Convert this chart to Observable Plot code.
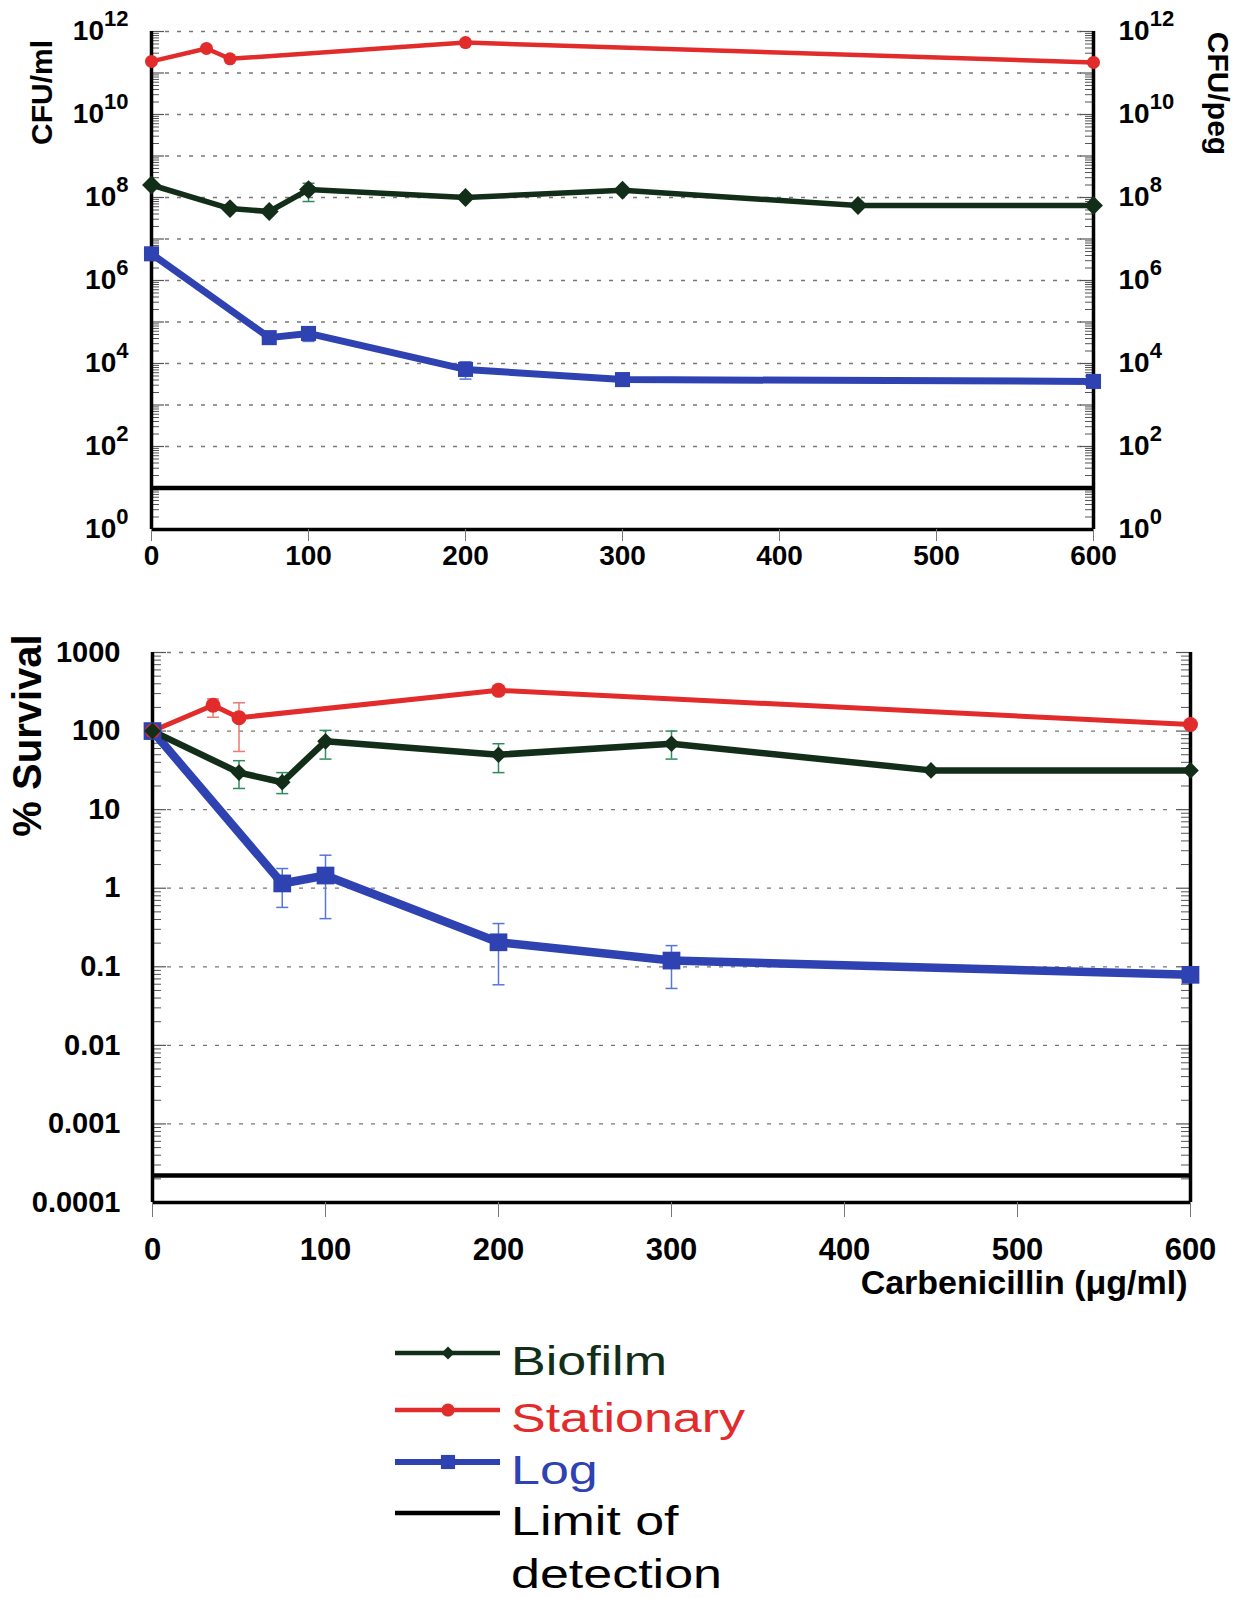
<!DOCTYPE html>
<html>
<head>
<meta charset="utf-8">
<script src="https://cdn.jsdelivr.net/npm/d3@7"></script>
<script src="https://cdn.jsdelivr.net/npm/@observablehq/plot@0.6"></script>
<style>
  body { margin: 0; background: #fff; }
  #wrap { width: 1247px; background: #fff; }
  #wrap svg { display: block; }
</style>
</head>
<body>
<div id="wrap"></div>
<script>
// ---------------- DATA ----------------
const concBiofilm    = [0, 50, 75, 100, 200, 300, 450, 600];
const concStationary = [0, 35, 50, 200, 600];
const concLog        = [0, 75, 100, 200, 300, 600];
const concTicks      = [0, 100, 200, 300, 400, 500, 600];

// Top panel: CFU/ml (planktonic) and CFU/peg (biofilm)
const cfuBiofilm    = [2.0e8, 5.4e7, 4.6e7, 1.55e8, 1.0e8, 1.5e8, 6.4e7, 6.4e7];
const cfuBiofilmLo  = [null, null, null, 8.0e7, null, null, null, null];
const cfuBiofilmHi  = [null, null, null, 2.2e8, null, null, null, null];
const cfuStationary = [1.9e11, 3.9e11, 2.2e11, 5.4e11, 1.8e11];
const cfuLog        = [4.4e6, 4.2e4, 5.3e4, 7.2e3, 4.1e3, 3.7e3];
const cfuLogLo      = [null, null, 3.4e4, 4.2e3, null, null];
const cfuLogHi      = [null, null, 7.0e4, 1.1e4, null, null];
const cfuLimit      = 10;
const cfuTickExps   = [0, 2, 4, 6, 8, 10, 12];

// Bottom panel: % survival
const survBiofilm     = [100, 29.6, 22.3, 74, 50, 69, 31.6, 31.6];
const survBiofilmLo   = [null, 18.6, 16, 44, 29.6, 44, null, null];
const survBiofilmHi   = [null, 42, 29.6, 102, 69, 100, null, null];
const survStationary  = [100, 213, 148, 330, 121];
const survStationaryLo= [null, 150, 55, 290, null];
const survStationaryHi= [null, 257, 229, 380, null];
const survLog         = [100, 1.15, 1.45, 0.205, 0.12, 0.079];
const survLogLo       = [null, 0.57, 0.41, 0.059, 0.053, null];
const survLogHi       = [null, 1.78, 2.63, 0.355, 0.186, null];
const survLimit       = 0.00022;
const survTicks       = [0.0001, 0.001, 0.01, 0.1, 1, 10, 100, 1000];
const survTickLabels  = ["0.0001", "0.001", "0.01", "0.1", "1", "10", "100", "1000"];

const seriesNames = ["Biofilm", "Stationary", "Log", "Limit of detection"];

// ---------------- STYLE ----------------
const FONT = "'Liberation Sans', Arial, Helvetica, sans-serif";
const C = { biofilm: "#132e18", stationary: "#e22b2b", log: "#2f42b2", limit: "#000" };
const CE = { biofilm: "#2f8a5c", stationary: "#ea7a72", log: "#5577dd" };
const W = 1247;

function rows(xs, ys, lo, hi) {
  return xs.map((x, i) => ({ x, y: ys[i], lo: lo ? lo[i] : null, hi: hi ? hi[i] : null }));
}
function errRows(t) { return t.filter(d => d.lo != null && d.hi != null); }

const capSymbol = { draw(ctx) { ctx.moveTo(-6, 0); ctx.lineTo(6, 0); } };

function decadeList(lo, hi) { const a = []; for (let k = lo; k <= hi; k++) a.push(Math.pow(10, k)); return a; }
function minorList(lo, hi) { const a = []; for (let k = lo; k < hi; k++) for (let m = 2; m <= 9; m++) a.push(m * Math.pow(10, k)); return a; }

function errorMarks(t, capColor) {
  const e = errRows(t);
  return [
    Plot.ruleX(e, { x: "x", y1: "lo", y2: "hi", stroke: capColor, strokeWidth: 1.5 }),
    Plot.dot(e, { x: "x", y: "lo", symbol: capSymbol, fill: "none", stroke: capColor, strokeWidth: 1.5 }),
    Plot.dot(e, { x: "x", y: "hi", symbol: capSymbol, fill: "none", stroke: capColor, strokeWidth: 1.5 })
  ];
}

function superscripts(svg) {
  d3.select(svg).selectAll("text").each(function () {
    const t = this.textContent;
    if (!t || t.indexOf("^") < 0) return;
    const [base, exp] = t.split("^");
    this.textContent = "";
    const s = d3.select(this);
    s.append("tspan").text(base);
    s.append("tspan").attr("font-size", 22).attr("dy", -14).text(exp);
  });
}

const wrap = document.getElementById("wrap");

// ---------------- TOP PANEL ----------------
{
  const m = { left: 151, right: 154, top: 31, bottom: 71 };
  const H = 600;
  const PW = W - m.left - m.right;
  const bio = rows(concBiofilm, cfuBiofilm, cfuBiofilmLo, cfuBiofilmHi);
  const sta = rows(concStationary, cfuStationary);
  const lg  = rows(concLog, cfuLog, cfuLogLo, cfuLogHi);
  const cfuTicks = cfuTickExps.map(e => Math.pow(10, e));
  const fmt = d => "10^" + Math.round(Math.log10(d));
  const grid = decadeList(1, 12).filter(v => v !== cfuLimit);
  const chart = Plot.plot({
    width: W, height: H,
    marginLeft: m.left, marginRight: m.right, marginTop: m.top, marginBottom: m.bottom,
    x: { domain: [0, 600], axis: null, label: null },
    y: { type: "log", domain: [1, 1e12], axis: null, label: null },
    style: { fontFamily: FONT, fontWeight: "bold", color: "#000", background: "#fff", overflow: "visible" },
    marks: [
      Plot.ruleY(grid, { stroke: "#777", strokeWidth: 1.3, strokeDasharray: "4,8", insetLeft: 14, insetRight: 12 }),
      Plot.ruleY(minorList(0, 12), { stroke: "#555", strokeWidth: 1, insetRight: PW - 8 }),
      Plot.ruleY(minorList(0, 12), { stroke: "#555", strokeWidth: 1, insetLeft: PW - 8 }),
      Plot.ruleY(decadeList(0, 12), { stroke: "#555", strokeWidth: 1.2, insetRight: PW - 13 }),
      Plot.ruleY(decadeList(0, 12), { stroke: "#555", strokeWidth: 1.2, insetLeft: PW - 13 }),
      Plot.ruleY([cfuLimit], { stroke: C.limit, strokeWidth: 4.5 }),
      Plot.ruleX([0, 600], { stroke: "#000", strokeWidth: 3.5 }),
      Plot.ruleY([1], { stroke: "#000", strokeWidth: 3.5 }),
      Plot.axisX({ ticks: concTicks, tickSize: 12, tickPadding: 4, stroke: "#777", fontSize: 28, fontWeight: "bold", label: null }),
      Plot.axisY({ anchor: "left", ticks: cfuTicks, tickFormat: fmt, tickSize: 0, tickPadding: 23, fontSize: 28, fontWeight: "bold", label: null }),
      Plot.axisY({ anchor: "right", ticks: cfuTicks, tickFormat: fmt, tickSize: 0, tickPadding: 25, fontSize: 28, fontWeight: "bold", label: null }),
      Plot.text(["CFU/ml"], { text: d => d, frameAnchor: "top-left", textAnchor: "middle", lineAnchor: "middle", rotate: -90, dx: -109, dy: 61, fontSize: 30, fontWeight: "bold" }),
      Plot.text(["CFU/peg"], { text: d => d, frameAnchor: "top-right", textAnchor: "middle", lineAnchor: "middle", rotate: 90, dx: 124, dy: 62, fontSize: 30, fontWeight: "bold" }),
      Plot.line(lg,  { x: "x", y: "y", stroke: C.log, strokeWidth: 7 }),
      Plot.line(bio, { x: "x", y: "y", stroke: C.biofilm, strokeWidth: 5.5 }),
      Plot.line(sta, { x: "x", y: "y", stroke: C.stationary, strokeWidth: 4.5 }),
      ...errorMarks(lg, CE.log),
      ...errorMarks(bio, CE.biofilm),
      Plot.dot(lg,  { x: "x", y: "y", symbol: "square", r: 8.5, fill: C.log }),
      Plot.dot(sta, { x: "x", y: "y", symbol: "circle", r: 6.5, fill: C.stationary }),
      Plot.dot(bio, { x: "x", y: "y", symbol: "diamond2", r: 8.5, fill: C.biofilm })
    ]
  });
  superscripts(chart);
  wrap.appendChild(chart);
}

// ---------------- BOTTOM PANEL ----------------
{
  const m = { left: 152, right: 57, top: 52, bottom: 118 };
  const H = 720;
  const PW = W - m.left - m.right;
  const bio = rows(concBiofilm, survBiofilm, survBiofilmLo, survBiofilmHi);
  const sta = rows(concStationary, survStationary, survStationaryLo, survStationaryHi);
  const lg  = rows(concLog, survLog, survLogLo, survLogHi);
  const fmt = d => survTickLabels[survTicks.indexOf(d)];
  const chart = Plot.plot({
    width: W, height: H,
    marginLeft: m.left, marginRight: m.right, marginTop: m.top, marginBottom: m.bottom,
    x: { domain: [0, 600], axis: null, label: null },
    y: { type: "log", domain: [1e-4, 1000], axis: null, label: null },
    style: { fontFamily: FONT, fontWeight: "bold", color: "#000", background: "#fff", overflow: "visible" },
    marks: [
      Plot.ruleY(decadeList(-3, 3), { stroke: "#777", strokeWidth: 1.3, strokeDasharray: "4,8", insetLeft: 15, insetRight: 17 }),
      Plot.ruleY(minorList(-4, 3), { stroke: "#555", strokeWidth: 1, insetRight: PW - 9 }),
      Plot.ruleY(minorList(-4, 3), { stroke: "#555", strokeWidth: 1, insetLeft: PW - 9 }),
      Plot.ruleY(decadeList(-4, 3), { stroke: "#555", strokeWidth: 1.2, insetRight: PW - 14 }),
      Plot.ruleY(decadeList(-4, 3), { stroke: "#555", strokeWidth: 1.2, insetLeft: PW - 14 }),
      Plot.ruleY([survLimit], { stroke: C.limit, strokeWidth: 4.5 }),
      Plot.ruleX([0, 600], { stroke: "#000", strokeWidth: 3.5 }),
      Plot.ruleY([1e-4], { stroke: "#000", strokeWidth: 3.5 }),
      Plot.axisX({ ticks: concTicks, tickSize: 15, tickPadding: 20, stroke: "#777", fontSize: 31, fontWeight: "bold", label: null }),
      Plot.axisY({ anchor: "left", ticks: survTicks, tickFormat: fmt, tickSize: 0, tickPadding: 32, fontSize: 29, fontWeight: "bold", label: null }),
      Plot.text(["% Survival"], { text: d => d, frameAnchor: "top-left", textAnchor: "middle", lineAnchor: "middle", rotate: -90, dx: -124, dy: 83, fontSize: 40, fontWeight: "bold" }),
      Plot.text(["Carbenicillin (\u03bcg/ml)"], { text: d => d, frameAnchor: "bottom-right", textAnchor: "end", lineAnchor: "middle", dx: -3, dy: 81, fontSize: 34, fontWeight: "bold" }),
      Plot.line(lg,  { x: "x", y: "y", stroke: C.log, strokeWidth: 8.5 }),
      Plot.line(sta, { x: "x", y: "y", stroke: C.stationary, strokeWidth: 5 }),
      Plot.line(bio, { x: "x", y: "y", stroke: C.biofilm, strokeWidth: 6.5 }),
      ...errorMarks(lg, CE.log),
      ...errorMarks(sta, CE.stationary),
      ...errorMarks(bio, CE.biofilm),
      Plot.dot(lg,  { x: "x", y: "y", symbol: "square", r: 10, fill: C.log }),
      Plot.dot(sta, { x: "x", y: "y", symbol: "circle", r: 7.5, fill: C.stationary }),
      Plot.dot(bio, { x: "x", y: "y", symbol: "diamond2", r: 7.5, fill: C.biofilm })
    ]
  });
  wrap.appendChild(chart);
}

// ---------------- LEGEND ----------------
{
  const H = 278;
  const rowY = [33, 90, 142, 193];
  const items = [
    { name: seriesNames[0], color: C.biofilm, symbol: d3.symbolDiamond2, size: 110, width: 4.5 },
    { name: seriesNames[1], color: C.stationary, symbol: d3.symbolCircle, size: 135, width: 4.5 },
    { name: seriesNames[2], color: C.log, symbol: d3.symbolSquare, size: 200, width: 6 },
    { name: seriesNames[3], color: C.limit, symbol: null, width: 4.5 }
  ];
  const svg = d3.create("svg").attr("width", W).attr("height", H)
    .attr("font-family", FONT).style("background", "#fff");
  items.forEach((it, i) => {
    const y = rowY[i];
    svg.append("line").attr("x1", 395).attr("x2", 500).attr("y1", y).attr("y2", y)
      .attr("stroke", it.color).attr("stroke-width", it.width);
    if (it.symbol) {
      svg.append("path").attr("d", d3.symbol(it.symbol, it.size)())
        .attr("transform", `translate(448,${y})`).attr("fill", it.color);
    }
    const lines = it.name === "Limit of detection" ? ["Limit of", "detection"] : [it.name];
    lines.forEach((ln, j) => {
      svg.append("text").attr("transform", `translate(511,${y + 22 + j * 53}) scale(1.3,1)`)
        .attr("fill", it.color).attr("font-size", 40).text(ln);
    });
  });
  wrap.appendChild(svg.node());
}
</script>
</body>
</html>
